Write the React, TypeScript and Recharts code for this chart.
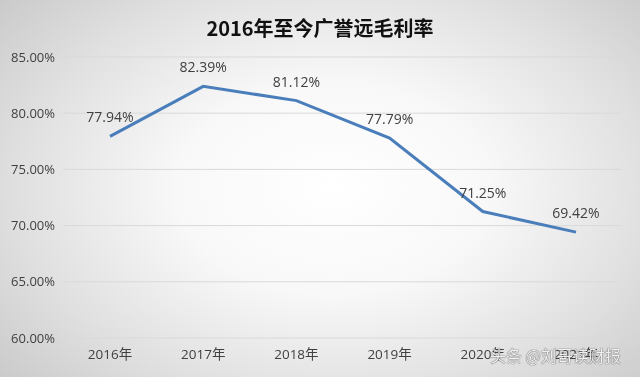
import React from "react";
import { LineChart, Line, XAxis, YAxis, CartesianGrid, LabelList } from "recharts";

const categories = ["2016年", "2017年", "2018年", "2019年", "2020年", "2021年"];
const margins = [0.7794, 0.8239, 0.8112, 0.7779, 0.7125, 0.6942];
const yTicks = [0.6, 0.65, 0.7, 0.75, 0.8, 0.85];
const title = "2016年至今广誉远毛利率";
const watermark = "头条 @刘哥读财报";

const data = categories.map((c, i) => ({ name: c, value: margins[i] }));
const pct = (v: number) => (v * 100).toFixed(2) + "%";
const FONT = "'Open Sans', 'Noto Sans CJK SC', sans-serif";

export default function App() {
  return (
    <div
      style={{
        position: "fixed",
        left: 0,
        top: 0,
        width: 640,
        height: 377,
        background:
          "radial-gradient(ellipse 70% 80% at 52% 50%, #ffffff 0%, #f8f8f8 35%, #e0e0e0 70%, #c8c8c8 100%)",
        fontFamily: FONT,
      }}
    >
      <div
        style={{
          position: "absolute",
          top: 13,
          left: 0,
          width: 640,
          textAlign: "center",
          fontSize: 20,
          fontWeight: "bold",
          color: "#111",
          fontFamily: "'Noto Sans CJK SC', sans-serif",
          lineHeight: "30px",
        }}
      >
        {title}
      </div>
      <LineChart
        width={640}
        height={377}
        data={data}
        margin={{ top: 57, right: 19, bottom: 9, left: 0 }}
        style={{ position: "absolute", left: 0, top: 0 }}
      >
        <CartesianGrid horizontal vertical={false} stroke="#d9d9d9" strokeWidth={1} />
        <XAxis
          dataKey="name"
          axisLine={false}
          tickLine={false}
          height={30}
          tickMargin={5}
          padding={{ left: 47, right: 45 }}
          tick={{ fill: "#404040", fontSize: 13.5, fontFamily: FONT }}
          interval={0}
        />
        <YAxis
          domain={[0.6, 0.85]}
          ticks={yTicks}
          tickFormatter={pct}
          axisLine={false}
          tickLine={false}
          width={63}
          tickMargin={2}
          tick={{ fill: "#404040", fontSize: 13, fontFamily: FONT }}
        />
        <Line
          type="linear"
          dataKey="value"
          stroke="#4a7ebb"
          strokeWidth={3}
          dot={false}
          isAnimationActive={false}
        >
          <LabelList
            dataKey="value"
            position="top"
            offset={14}
            formatter={(v: number) => pct(v)}
            style={{ fill: "#404040", fontSize: 14, fontFamily: FONT }}
          />
        </Line>
      </LineChart>
      <div
        style={{
          position: "absolute",
          left: 490,
          top: 343,
          fontSize: 16,
          color: "rgba(255,255,255,0.9)",
          textShadow: "0 0 1px #555, 0 0 1px #555",
          fontFamily: "'Noto Sans CJK SC', sans-serif",
          whiteSpace: "nowrap",
        }}
      >
        {watermark}
      </div>
    </div>
  );
}
